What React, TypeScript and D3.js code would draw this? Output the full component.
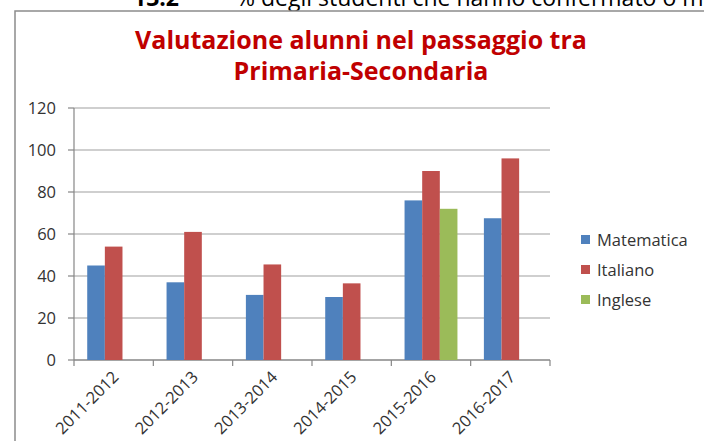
import React from "react";
import * as d3 from "d3";

const categories = ["2011-2012", "2012-2013", "2013-2014", "2014-2015", "2015-2016", "2016-2017"];
const seriesNames = ["Matematica", "Italiano", "Inglese"];
const matematica = [45, 37, 31, 30, 76, 67.5];
const italiano = [54, 61, 45.5, 36.5, 90, 96];
const inglese: (number | null)[] = [null, null, null, null, 72, null];
const yTicks = [0, 20, 40, 60, 80, 100, 120];
const colors = ["#4F81BD", "#C0504D", "#9BBB59"];
const titleLines = ["Valutazione alunni nel passaggio tra", "Primaria-Secondaria"];
const headerNumber = "13.2";
const headerText = "% degli studenti che hanno confermato o mi";

export default function App() {
  const W = 704, H = 441;
  const left = 74, right = 550, top = 108, bottom = 360;
  const x = d3.scaleBand<string>().domain(categories).range([left, right]).paddingInner(0).paddingOuter(0);
  const y = d3.scaleLinear().domain([0, 120]).range([bottom, top]);
  const bw = x.bandwidth();
  const barW = bw / (3 + 1.5);
  const inner = d3.scaleBand<number>().domain([0, 1, 2]).range([0, barW * 3]);
  const series = [matematica, italiano, inglese];
  const font = "'Open Sans', sans-serif";

  return (
    <svg width={W} height={H} style={{ position: "absolute", left: 0, top: 0, background: "#fff" }}>
      <rect x={0} y={0} width={W} height={H} fill="#fff" />
      {/* header text cut off at top */}
      <text x={133} y={6} fontFamily={font} fontSize={23} fill="#000" fontWeight="bold">{headerNumber}</text>
      <text x={236} y={6} fontFamily={font} fontSize={23} fill="#000">{headerText}</text>
      {/* frame */}
      <rect x={15} y={11} width={W} height={H} fill="#fff" stroke="#8c8c8c" strokeWidth={1.5} />
      {/* title */}
      {titleLines.map((t, i) => (
        <text key={i} x={361} y={49 + i * 31} textAnchor="middle" fontFamily={font} fontWeight="bold" fontSize={25} fill="#C00000">{t}</text>
      ))}
      {/* gridlines */}
      {yTicks.map((t) => (
        <g key={t}>
          <line x1={left} x2={right} y1={y(t)} y2={y(t)} stroke={t === 0 ? "#868686" : "#bfbfbf"} strokeWidth={1.5} />
          <line x1={left - 6} x2={left} y1={y(t)} y2={y(t)} stroke="#868686" strokeWidth={1.2} />
          <text x={56} y={y(t) + 6} textAnchor="end" fontFamily={font} fontSize={16.5} fill="#333">{t}</text>
        </g>
      ))}
      <line x1={left} x2={left} y1={top} y2={bottom} stroke="#868686" strokeWidth={1.2} />
      {/* x ticks */}
      {categories.concat(["end"]).map((c, i) => {
        const xx = left + i * bw;
        return <line key={c} x1={xx} x2={xx} y1={bottom} y2={bottom + 6} stroke="#868686" strokeWidth={1.2} />;
      })}
      {/* bars */}
      {series.map((s, si) =>
        s.map((v, ci) =>
          v == null ? null : (
            <rect
              key={si + "-" + ci}
              x={(x(categories[ci]) as number) + barW * 0.75 + (inner(si) as number)}
              y={y(v)}
              width={inner.bandwidth()}
              height={bottom - y(v)}
              fill={colors[si]}
            />
          )
        )
      )}
      {/* x labels */}
      {categories.map((c) => {
        const cx = (x(c) as number) + bw / 2 + 2;
        const cy = bottom + 14;
        return (
          <text key={c} transform={`translate(${cx},${cy}) rotate(-45)`} textAnchor="end" fontFamily={font} fontSize={16.5} fill="#333" dy="0.35em">{c}</text>
        );
      })}
      {/* legend */}
      {seriesNames.map((n, i) => (
        <g key={n} transform={`translate(581, ${235 + i * 30})`}>
          <rect x={0} y={0} width={9} height={9} fill={colors[i]} />
          <text x={16} y={10.5} fontFamily={font} fontSize={16.5} fill="#333">{n}</text>
        </g>
      ))}
    </svg>
  );
}
